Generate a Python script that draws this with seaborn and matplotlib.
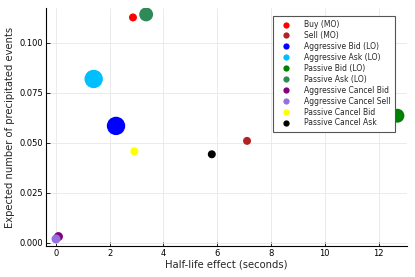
import matplotlib
matplotlib.use("Agg")
import pandas as pd
import seaborn as sns
import matplotlib.pyplot as plt
from matplotlib.lines import Line2D

# events, their half-life effect and expected number of precipitated events
events = ["Buy (MO)", "Sell (MO)", "Aggressive Bid (LO)", "Aggressive Ask (LO)",
          "Passive Bid (LO)", "Passive Ask (LO)", "Aggressive Cancel Bid",
          "Aggressive Cancel Sell", "Passive Cancel Bid", "Passive Cancel Ask"]
half_life = [2.87, 7.11, 2.24, 1.41, 12.70, 3.36, 0.10, 0.01, 2.92, 5.80]
expected = [0.1127, 0.0509, 0.0584, 0.0819, 0.0635, 0.1142, 0.0030, 0.0018, 0.0457, 0.0442]
marker_area = [33, 33, 175, 175, 100, 100, 42, 42, 33, 33]
colours = ["red", "firebrick", "blue", "deepskyblue", "green", "seagreen",
           "purple", "mediumpurple", "yellow", "black"]

df = pd.DataFrame({"event": events, "half_life": half_life,
                   "expected": expected, "area": marker_area})
palette = dict(zip(events, colours))

sns.set_style("white")
plt.rcParams['font.family'] = ['DejaVu Sans']

fig = plt.figure(figsize=(4.15, 2.77), dpi=100)
ax = fig.add_axes([0.111, 0.112, 0.870, 0.859])

sns.scatterplot(data=df, x="half_life", y="expected", hue="event",
                palette=palette, s=df["area"], linewidth=0, legend=False,
                ax=ax, zorder=3)

ax.set_xlim(-0.36, 13.06)
ax.set_ylim(-0.0017, 0.1174)
ax.set_xticks([0, 2, 4, 6, 8, 10, 12])
ax.set_yticks([0.0, 0.025, 0.05, 0.075, 0.1])
ax.set_yticklabels(["0.000", "0.025", "0.050", "0.075", "0.100"])
ax.grid(True, color="#e8e8e8", linewidth=0.6)
ax.set_axisbelow(True)
for side in ["top", "right"]:
    ax.spines[side].set_visible(False)
for side in ["left", "bottom"]:
    ax.spines[side].set_color("black")
    ax.spines[side].set_linewidth(0.8)
ax.tick_params(direction="in", length=3, width=0.6, labelsize=6, pad=2,
               colors="black", bottom=True, left=True)
ax.set_xlabel("Half-life effect (seconds)", fontsize=7.2, labelpad=1)
ax.set_ylabel("Expected number of precipitated events", fontsize=7.2, labelpad=3)

handles = [Line2D([], [], marker="o", linestyle="none", markersize=4.5,
                  markerfacecolor=c, markeredgewidth=0, label=e)
           for e, c in zip(events, colours)]
leg = ax.legend(handles=handles, loc="upper right", bbox_to_anchor=(0.967, 0.968),
                borderaxespad=0, fontsize=5.5, fancybox=False, framealpha=1,
                edgecolor="#555555", handletextpad=1.2, labelspacing=0.25,
                borderpad=0.6, handlelength=2.2)
leg.get_frame().set_linewidth(0.8)
leg.set_zorder(5)

fig.savefig("out.png", dpi=100)
